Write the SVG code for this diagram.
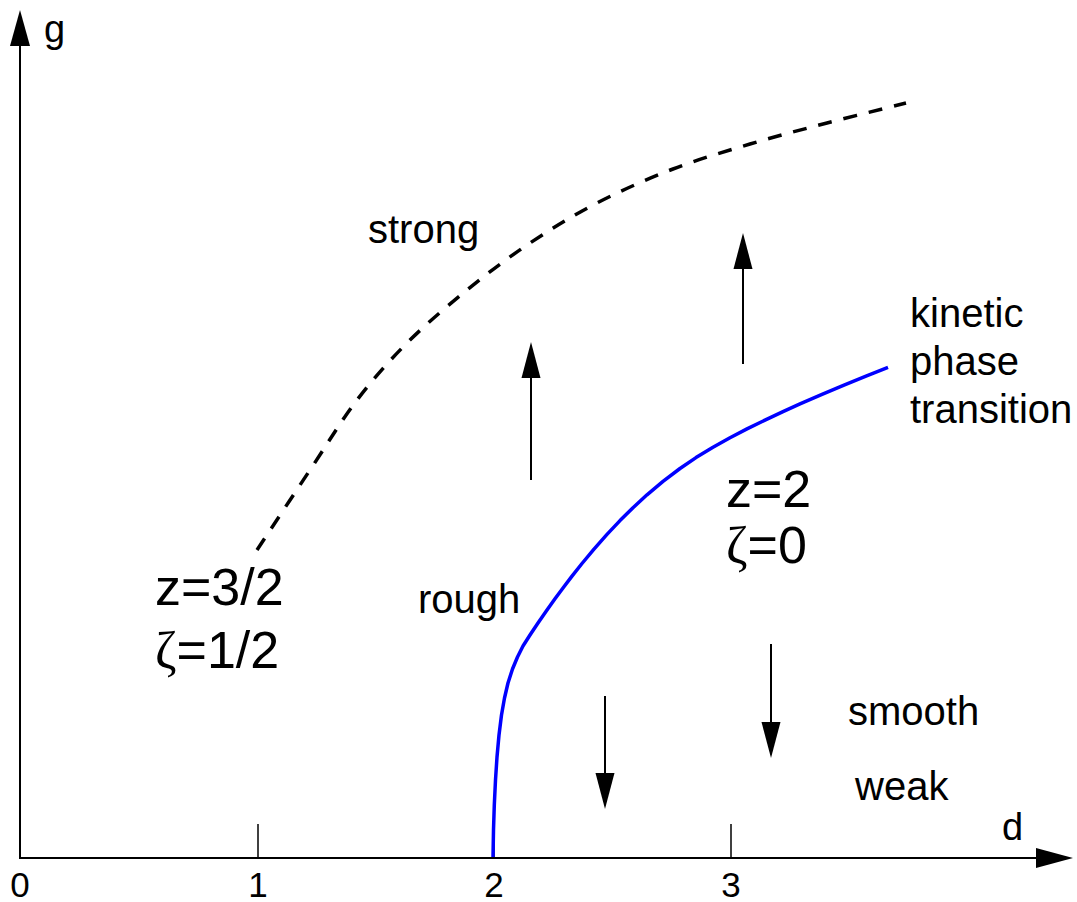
<svg xmlns="http://www.w3.org/2000/svg" width="1077" height="902" viewBox="0 0 1077 902">
<defs>
<style>
text{font-family:"Liberation Sans",Arial,sans-serif;fill:#000}
.lbl{font-size:40px}
.big{font-size:52px}
.ax{font-size:35px}
.axl{font-size:38px}
.zeta{font-family:"Liberation Serif","DejaVu Serif",serif}
.axis{stroke:#000;stroke-width:2;fill:none}
.tick{stroke:#000;stroke-width:1.5;fill:none}
.arr{stroke:#000;stroke-width:2;fill:none}
.head{fill:#000;stroke:none}
</style>
</defs>
<rect width="1077" height="902" fill="#fff"/>
<g id="axes">
<line class="axis" x1="20" y1="858" x2="20" y2="40"/>
<polygon class="head" points="20,10 10,46 30,46"/>
<line class="axis" x1="19" y1="858" x2="1040" y2="858"/>
<polygon class="head" points="1073,858 1036,848 1036,868"/>
<line class="tick" x1="258" y1="824" x2="258" y2="858"/>
<line class="tick" x1="494" y1="824" x2="494" y2="858"/>
<line class="tick" x1="731" y1="824" x2="731" y2="858"/>
<text class="ax" x="20" y="897" text-anchor="middle">0</text>
<text class="ax" x="258" y="897" text-anchor="middle">1</text>
<text class="ax" x="494" y="897" text-anchor="middle">2</text>
<text class="ax" x="731" y="897" text-anchor="middle">3</text>
<text class="axl" x="44" y="42">g</text>
<text class="axl" x="1002" y="840">d</text>
</g>
<g id="connectors">
<path id="strong-weak-crossover" d="M257,550 C265.8,536.7 293.3,495 310,470 C326.7,445 340.8,421.2 357,400 C373.2,378.8 388.7,361.3 407,343 C425.3,324.7 446.5,306.7 467,290 C487.5,273.3 508.3,257.5 530,243 C551.7,228.5 573.2,215.3 597,203 C620.8,190.7 647.5,178.8 673,169 C698.5,159.2 724.3,151.7 750,144 C775.7,136.3 801,129.8 827,123 C853,116.2 892.8,106.3 906,103" fill="none" stroke="#000" stroke-width="3.5" stroke-dasharray="14,12"/>
<polyline id="kinetic-transition" points="493,857 493.5,830 494.3,805 495.5,780 497,757 499,735 501.5,715 504.5,698 508,683 512.5,669 517.5,657 523,646 530,635 538,623 547,610 555,598.8 563,588 572,576.1 582,563.5 594,549.1 607,534.4 620,520.6 633,507.7 647,494.8 663,481.4 680,468.5 696,457.6 713,447.2 730,437.7 747,428.9 765,420.1 783,411.6 800,403.8 822,394.3 844,385.1 866,376.1 888,367.3" fill="none" stroke="#0000ff" stroke-width="3.5" stroke-linejoin="round"/>
<g id="arrow-up-1"><line class="arr" x1="531" y1="480" x2="531" y2="372"/><polygon class="head" points="531,342 521.5,378 540.5,378"/></g>
<g id="arrow-up-2"><line class="arr" x1="743" y1="364" x2="743" y2="262"/><polygon class="head" points="743,233 733.5,269 752.5,269"/></g>
<g id="arrow-down-1"><line class="arr" x1="605" y1="696" x2="605" y2="778"/><polygon class="head" points="605,809 595.5,773 614.5,773"/></g>
<g id="arrow-down-2"><line class="arr" x1="771" y1="644" x2="771" y2="727"/><polygon class="head" points="771,758 761.5,722 780.5,722"/></g>
</g>
<g id="label-strong"><text class="lbl" x="368" y="243">strong</text></g>
<g id="label-rough"><text class="lbl" x="418" y="613">rough</text></g>
<g id="label-smooth"><text class="lbl" x="848" y="725">smooth</text></g>
<g id="label-weak"><text class="lbl" x="855" y="800">weak</text></g>
<g id="label-kinetic"><text class="lbl" x="910" y="327">kinetic</text><text class="lbl" x="910" y="375">phase</text><text class="lbl" x="910" y="423">transition</text></g>
<g id="label-kpz"><text class="big" x="155" y="605">z=3/2</text><text class="big" x="155" y="668"><tspan class="zeta">ζ</tspan>=1/2</text></g>
<g id="label-ew"><text class="big" x="726" y="507">z=2</text><text class="big" x="726" y="563"><tspan class="zeta">ζ</tspan>=0</text></g>
</svg>
